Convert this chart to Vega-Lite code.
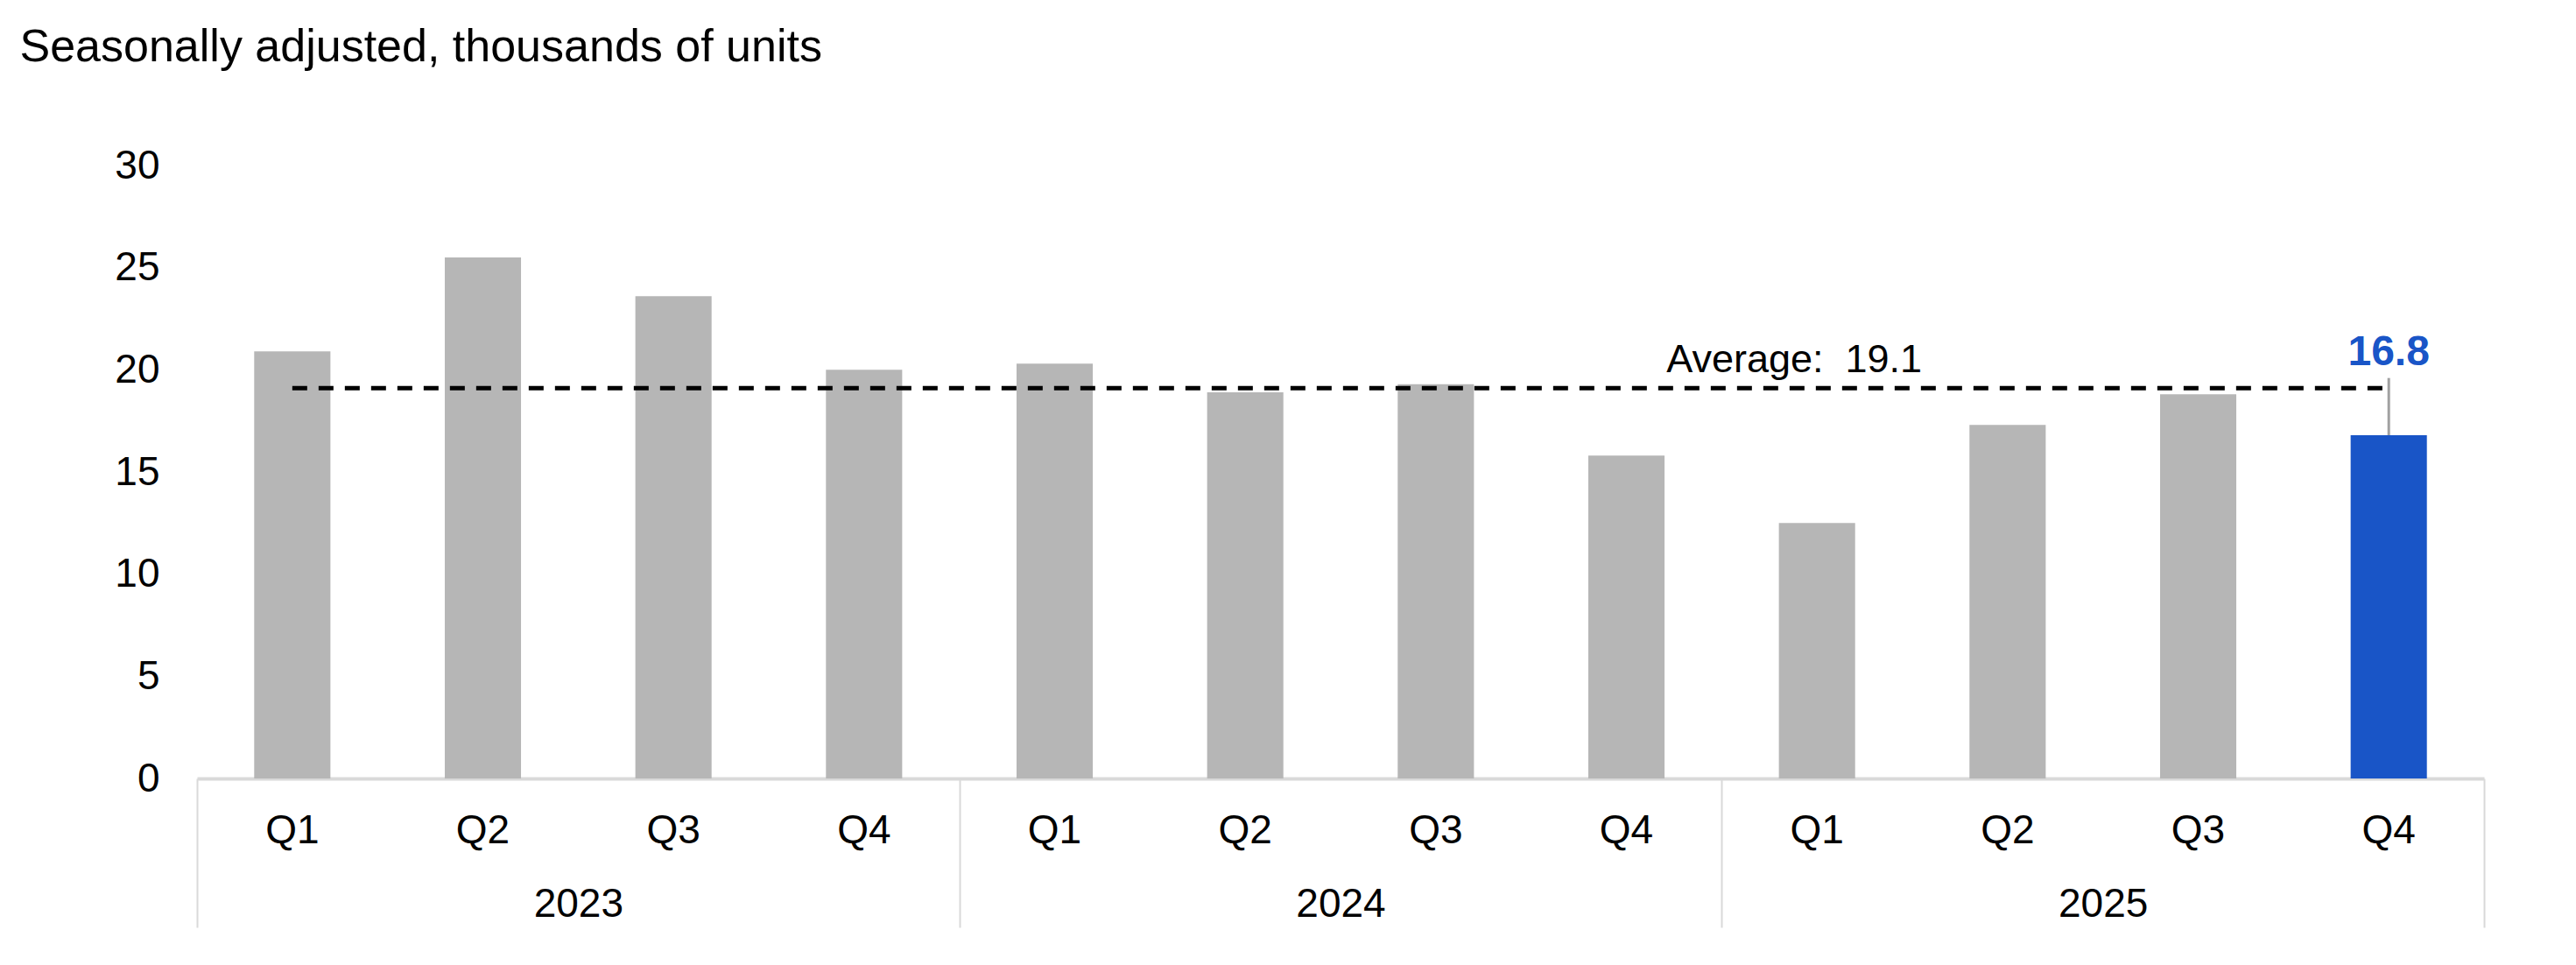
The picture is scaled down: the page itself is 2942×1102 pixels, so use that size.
{
  "$schema": "https://vega.github.io/schema/vega-lite/v6.json",
  "width": 2612,
  "height": 700,
  "autosize": {"type": "none"},
  "padding": {"left": 225, "top": 189, "right": 105, "bottom": 213},
  "background": "white",
  "config": {
    "view": {"stroke": null},
    "font": "Liberation Sans",
    "text": {"font": "Liberation Sans"}
  },
  "datasets": {
    "bars": [
      {"year": "2023", "quarter": "Q1", "value": 20.9, "series": "history"},
      {"year": "2023", "quarter": "Q2", "value": 25.5, "series": "history"},
      {"year": "2023", "quarter": "Q3", "value": 23.6, "series": "history"},
      {"year": "2023", "quarter": "Q4", "value": 20.0, "series": "history"},
      {"year": "2024", "quarter": "Q1", "value": 20.3, "series": "history"},
      {"year": "2024", "quarter": "Q2", "value": 18.9, "series": "history"},
      {"year": "2024", "quarter": "Q3", "value": 19.3, "series": "history"},
      {"year": "2024", "quarter": "Q4", "value": 15.8, "series": "history"},
      {"year": "2025", "quarter": "Q1", "value": 12.5, "series": "history"},
      {"year": "2025", "quarter": "Q2", "value": 17.3, "series": "history"},
      {"year": "2025", "quarter": "Q3", "value": 18.8, "series": "history"},
      {"year": "2025", "quarter": "Q4", "value": 16.8, "series": "latest"}
    ],
    "latest": [
      {"year": "2025", "quarter": "Q4", "value": 16.8, "stemTop": 19.6, "label": "16.8"}
    ],
    "average": [
      {"year": "2025", "quarter": "Q1", "avg": 19.1, "label": "Average:\u00a0 19.1"}
    ]
  },
  "layer": [
    {
      "data": {"name": "bars"},
      "mark": {"type": "bar"},
      "encoding": {
        "x": {
          "field": "year",
          "type": "nominal",
          "scale": {"paddingInner": 0, "paddingOuter": 0},
          "axis": {
            "title": null,
            "orient": "bottom",
            "domainColor": "#d9d9d9",
            "domainWidth": 4,
            "tickBand": "extent",
            "tickColor": "#d9d9d9",
            "tickWidth": 2,
            "tickSize": 170,
            "labelPadding": -49,
            "labelFontSize": 46,
            "labelColor": "#000000",
            "labelAngle": 0,
            "labelFont": "Liberation Sans"
          }
        },
        "xOffset": {
          "field": "quarter",
          "type": "nominal",
          "scale": {"paddingInner": 0.6, "paddingOuter": 0.3}
        },
        "y": {
          "field": "value",
          "type": "quantitative",
          "scale": {"domain": [0, 30], "nice": false},
          "axis": {
            "values": [0, 5, 10, 15, 20, 25, 30],
            "title": "Seasonally adjusted, thousands of units",
            "titleAngle": 0,
            "titleX": -203,
            "titleY": -120,
            "titleAlign": "left",
            "titleBaseline": "alphabetic",
            "titleFontSize": 52,
            "titleFontWeight": "normal",
            "titleColor": "#000000",
            "titleFont": "Liberation Sans",
            "domain": false,
            "ticks": false,
            "tickSize": 0,
            "grid": false,
            "labelPadding": 43,
            "labelFontSize": 46,
            "labelColor": "#000000",
            "labelFont": "Liberation Sans"
          }
        },
        "color": {
          "field": "series",
          "type": "nominal",
          "scale": {"domain": ["history", "latest"], "range": ["#b6b6b6", "#1955c7"]},
          "legend": null
        }
      }
    },
    {
      "data": {"name": "bars"},
      "mark": {"type": "text", "baseline": "middle", "dy": 60, "fontSize": 46, "color": "#000000"},
      "encoding": {
        "x": {"field": "year", "type": "nominal"},
        "xOffset": {"field": "quarter", "type": "nominal"},
        "y": {"datum": 0, "type": "quantitative"},
        "text": {"field": "quarter", "type": "nominal"}
      }
    },
    {
      "data": {"name": "bars"},
      "mark": {"type": "line", "color": "#000000", "strokeWidth": 5, "strokeDash": [17, 13]},
      "encoding": {
        "x": {"field": "year", "type": "nominal"},
        "xOffset": {"field": "quarter", "type": "nominal"},
        "y": {"datum": 19.1, "type": "quantitative"}
      }
    },
    {
      "data": {"name": "average"},
      "mark": {"type": "text", "align": "center", "baseline": "alphabetic", "dx": -26, "dy": -18, "fontSize": 45, "color": "#000000"},
      "encoding": {
        "x": {"field": "year", "type": "nominal"},
        "xOffset": {"field": "quarter", "type": "nominal"},
        "y": {"field": "avg", "type": "quantitative"},
        "text": {"field": "label", "type": "nominal"}
      }
    },
    {
      "data": {"name": "latest"},
      "mark": {"type": "rule", "color": "#a0a0a0", "strokeWidth": 3},
      "encoding": {
        "x": {"field": "year", "type": "nominal"},
        "xOffset": {"field": "quarter", "type": "nominal"},
        "y": {"field": "value", "type": "quantitative"},
        "y2": {"field": "stemTop"}
      }
    },
    {
      "data": {"name": "latest"},
      "mark": {"type": "text", "align": "center", "baseline": "alphabetic", "dy": -15, "fontSize": 48, "fontWeight": "bold", "color": "#1955c7"},
      "encoding": {
        "x": {"field": "year", "type": "nominal"},
        "xOffset": {"field": "quarter", "type": "nominal"},
        "y": {"field": "stemTop", "type": "quantitative"},
        "text": {"field": "label", "type": "nominal"}
      }
    }
  ]
}
